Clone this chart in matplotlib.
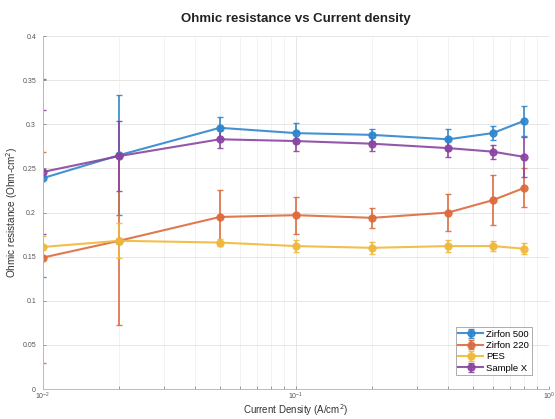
import matplotlib
matplotlib.use("Agg")
import matplotlib.pyplot as plt
from matplotlib.ticker import LogLocator, NullFormatter

plt.rcParams['font.family'] = ['Liberation Sans', 'DejaVu Sans']

current = [0.01, 0.02, 0.05, 0.1, 0.2, 0.4, 0.6, 0.8]
series_names = ["Zirfon 500", "Zirfon 220", "PES", "Sample X"]
zirfon500 = [0.239, 0.265, 0.296, 0.290, 0.288, 0.283, 0.290, 0.304]
zirfon500_err = [0.112, 0.068, 0.012, 0.011, 0.007, 0.012, 0.008, 0.017]
zirfon220 = [0.149, 0.168, 0.195, 0.197, 0.194, 0.200, 0.214, 0.228]
zirfon220_err = [0.120, 0.095, 0.030, 0.021, 0.011, 0.021, 0.028, 0.022]
pes = [0.161, 0.168, 0.166, 0.162, 0.160, 0.162, 0.162, 0.159]
pes_err = [0.012, 0.020, 0.004, 0.007, 0.007, 0.007, 0.006, 0.006]
samplex = [0.246, 0.264, 0.283, 0.281, 0.278, 0.273, 0.269, 0.263]
samplex_err = [0.070, 0.040, 0.010, 0.011, 0.008, 0.010, 0.008, 0.023]

values = [zirfon500, zirfon220, pes, samplex]
errors = [zirfon500_err, zirfon220_err, pes_err, samplex_err]
colors = ["#2f86cc", "#dc6a3c", "#f0b83a", "#8a45a0"]

fig = plt.figure(figsize=(5.55, 4.19), dpi=100)
ax = fig.add_axes([0.0775, 0.0715, 0.9115, 0.8425])

for name, v, e, c in zip(series_names, values, errors, colors):
    ax.errorbar(current, v, yerr=e, color=c, lw=1.5, marker='o', ms=5,
                mfc=c, mec=c, capsize=2, elinewidth=1.3, capthick=1.0,
                label=name, alpha=0.9)

ax.set_xscale('log')
ax.set_xlim(0.01, 1.0)
ax.set_ylim(0, 0.4)
ax.set_yticks([0, 0.05, 0.1, 0.15, 0.2, 0.25, 0.3, 0.35, 0.4])
ax.set_yticklabels(["0", "0.05", "0.1", "0.15", "0.2", "0.25", "0.3", "0.35", "0.4"])
ax.xaxis.set_minor_locator(LogLocator(base=10, subs=range(2, 10)))
ax.xaxis.set_minor_formatter(NullFormatter())
ax.tick_params(axis='both', which='both', labelsize=5, colors='#888888',
               direction='in', length=2.5, width=0.6)
ax.tick_params(axis='x', pad=1.5)
ax.tick_params(axis='y', pad=5)
ax.tick_params(axis='both', labelcolor='#555555')
ax.grid(True, which='major', color='#e6e6e6', lw=0.7)
ax.grid(True, which='minor', axis='x', color='#f0f0f0', lw=0.6)
ax.set_axisbelow(True)
for s in ['top', 'right']:
    ax.spines[s].set_visible(False)
for s in ['left', 'bottom']:
    ax.spines[s].set_color('#bbbbbb')
    ax.spines[s].set_linewidth(0.7)

ax.set_title("Ohmic resistance vs Current density", fontsize=9.5,
             fontweight='bold', color='#222222', pad=10)
ax.set_ylabel("Ohmic resistance (Ohm-cm$^2$)", fontsize=7.2, color='#333333')
ax.yaxis.set_label_coords(-0.045, 0.5)
ax.set_xlabel("Current Density (A/cm$^2$)", fontsize=7.0, color='#333333')
ax.xaxis.set_label_coords(0.5, -0.038)

leg = ax.legend(loc='lower right', fontsize=6.8, frameon=True, fancybox=False,
                borderpad=0.3, labelspacing=0.25, handlelength=2.6,
                handletextpad=0.3, bbox_to_anchor=(0.975, 0.025))
leg.get_frame().set_edgecolor('#888888')
leg.get_frame().set_linewidth(0.6)

fig.savefig("out.png", dpi=100)
